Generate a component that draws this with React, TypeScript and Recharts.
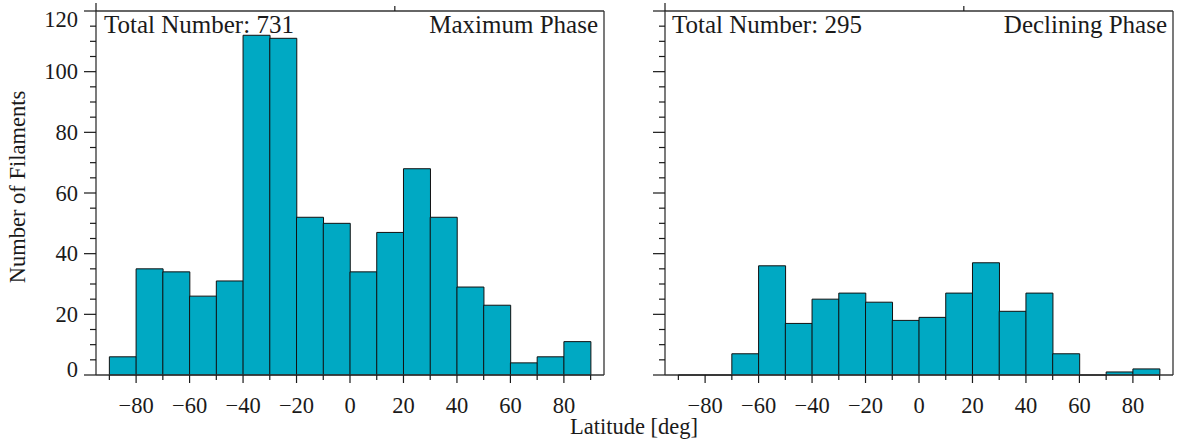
import React from 'react'
import { BarChart, Bar, XAxis, YAxis } from 'recharts'

// latitude bins, 10 deg wide, given by their centres
const binCenters = [-85, -75, -65, -55, -45, -35, -25, -15, -5, 5, 15, 25, 35, 45, 55, 65, 75, 85]
const maximumPhaseCounts = [6, 35, 34, 26, 31, 112, 111, 52, 50, 34, 47, 68, 52, 29, 23, 4, 6, 11]
const decliningPhaseCounts = [0, 0, 7, 36, 17, 25, 27, 24, 18, 19, 27, 37, 21, 27, 7, 0, 1, 2]

const xTicks = [-90, -80, -70, -60, -50, -40, -30, -20, -10, 0, 10, 20, 30, 40, 50, 60, 70, 80, 90]
const xLabelTicks = [-80, -60, -40, -20, 0, 20, 40, 60, 80]
const yTicks = [0, 5, 10, 15, 20, 25, 30, 35, 40, 45, 50, 55, 60, 65, 70, 75, 80, 85, 90, 95, 100, 105, 110, 115, 120]
const yLabelTicks = [0, 20, 40, 60, 80, 100, 120]

const FONT = '"Liberation Serif", "Times New Roman", Times, serif'
const BAR_FILL = '#00A9C3'
const INK = '#1a1a1a'

const maxData = binCenters.map((lat, i) => ({ lat, count: maximumPhaseCounts[i] }))
const decData = binCenters.map((lat, i) => ({ lat, count: decliningPhaseCounts[i] }))

const fmt = (v: number) => (v < 0 ? '\u2212' + Math.abs(v) : String(v))

type Side = 'left' | 'right' | 'top' | 'bottom'

// draws tick marks (major / minor) and labels; tickSize and tickMargin are 0
// so x, y are the point on the axis line itself
function makeTick(side: Side, majors: number[], majorLen: number, minorLen: number, labels: boolean) {
  return (props: any) => {
    const { x, y, payload } = props
    const v = payload.value
    const isMajor = majors.includes(v)
    const len = isMajor ? majorLen : minorLen
    let x2 = x
    let y2 = y
    if (side === 'left') x2 = x - len
    if (side === 'right') x2 = x + len
    if (side === 'top') y2 = y - len
    if (side === 'bottom') y2 = y + len
    let text = null
    if (labels && isMajor) {
      if (side === 'bottom') {
        text = (
          <text x={x} y={y + 37.5} textAnchor="middle" fontFamily={FONT} fontSize={22.5} fill={INK}>
            {fmt(v)}
          </text>
        )
      } else if (side === 'left') {
        const shift = v === 120 ? 8.5 : v === 0 ? -6 : 0
        text = (
          <text x={x - 18} y={y + shift + 7.5} textAnchor="end" fontFamily={FONT} fontSize={22.5} fill={INK}>
            {fmt(v)}
          </text>
        )
      }
    }
    return (
      <g>
        <line x1={x} y1={y} x2={x2} y2={y2} stroke={INK} strokeWidth={1.2} />
        {text}
      </g>
    )
  }
}

const HistBar = (props: any) => {
  const { x, y, width, height, fill } = props
  return (
    <path
      d={`M${x},${y + height}V${y}H${x + width}V${y + height}Z`}
      fill={fill}
      stroke="#111"
      strokeWidth={1}
    />
  )
}

interface PanelProps {
  data: { lat: number; count: number }[]
  width: number
  leftAxisWidth: number
  rightAxisWidth: number
  margin: { top: number; right: number; bottom: number; left: number }
  yLabels: boolean
}

function HistPanel({ data, width, leftAxisWidth, rightAxisWidth, margin, yLabels }: PanelProps) {
  const axisLine = { stroke: '#333', strokeWidth: 1.3 }
  return (
    <BarChart width={width} height={445} data={data} margin={margin} barCategoryGap={0} barGap={0}>
      <XAxis
        xAxisId="bottom"
        dataKey="lat"
        type="number"
        domain={[-95, 95]}
        ticks={xTicks}
        interval={0}
        orientation="bottom"
        height={40}
        tickSize={0}
        tickMargin={0}
        tickLine={false}
        axisLine={axisLine}
        tick={makeTick('bottom', xLabelTicks, 8, 5, true)}
      />
      <XAxis
        xAxisId="top"
        type="number"
        domain={[-95, 95]}
        ticks={xTicks}
        interval={0}
        orientation="top"
        height={10}
        tickSize={0}
        tickMargin={0}
        tickLine={false}
        axisLine={axisLine}
        tick={makeTick('top', xLabelTicks, 8, 5, false)}
      />
      <YAxis
        yAxisId="left"
        type="number"
        domain={[0, 120]}
        ticks={yTicks}
        interval={0}
        orientation="left"
        width={leftAxisWidth}
        tickSize={0}
        tickMargin={0}
        tickLine={false}
        axisLine={axisLine}
        tick={makeTick('left', yLabelTicks, 12, 6, yLabels)}
      />
      <YAxis
        yAxisId="right"
        type="number"
        domain={[0, 120]}
        ticks={yTicks}
        interval={0}
        orientation="right"
        width={rightAxisWidth}
        tickSize={0}
        tickMargin={0}
        tickLine={false}
        axisLine={axisLine}
        tick={makeTick('right', yLabelTicks, 12, 6, false)}
      />
      <Bar
        xAxisId="bottom"
        yAxisId="left"
        dataKey="count"
        fill={BAR_FILL}
        shape={HistBar}
        isAnimationActive={false}
      />
    </BarChart>
  )
}

export default function App() {
  const textStyle = { fontFamily: FONT, fill: INK }
  return (
    <div style={{ position: 'absolute', left: 0, top: 0, width: 1192, height: 445, background: '#fff' }}>
      <div style={{ position: 'absolute', left: 0, top: 0 }}>
        <HistPanel
          data={maxData}
          width={640}
          leftAxisWidth={60}
          rightAxisWidth={20}
          margin={{ top: 1, right: 16, bottom: 30, left: 36 }}
          yLabels={true}
        />
      </div>
      <div style={{ position: 'absolute', left: 620, top: 0 }}>
        <HistPanel
          data={decData}
          width={572}
          leftAxisWidth={20}
          rightAxisWidth={14}
          margin={{ top: 1, right: 5, bottom: 30, left: 25 }}
          yLabels={false}
        />
      </div>
      <svg
        width={1192}
        height={445}
        style={{ position: 'absolute', left: 0, top: 0, pointerEvents: 'none' }}
      >
        <text x={104} y={33} fontSize={25} {...textStyle}>Total Number: 731</text>
        <text x={598} y={33} fontSize={25} textAnchor="end" {...textStyle}>Maximum Phase</text>
        <text x={672} y={33} fontSize={25} {...textStyle}>Total Number: 295</text>
        <text x={1167} y={33} fontSize={25} textAnchor="end" {...textStyle}>Declining Phase</text>
        <text x={634} y={434} fontSize={22.5} textAnchor="middle" {...textStyle}>Latitude [deg]</text>
        <text
          x={25}
          y={187}
          fontSize={22.5}
          textAnchor="middle"
          transform="rotate(-90 25 187)"
          {...textStyle}
        >
          Number of Filaments
        </text>
      </svg>
    </div>
  )
}
